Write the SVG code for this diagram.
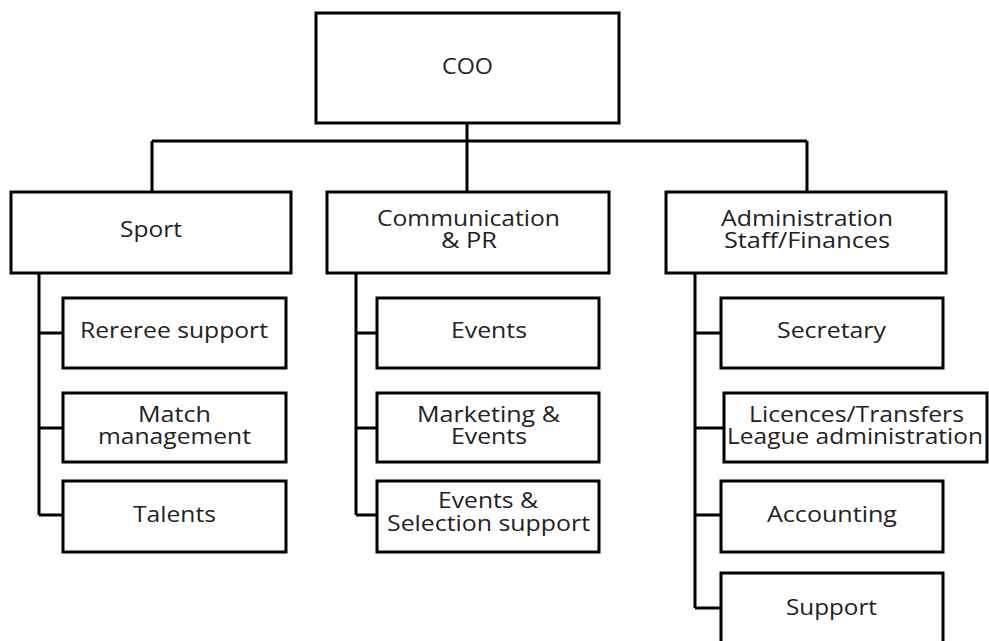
<svg xmlns="http://www.w3.org/2000/svg" width="989" height="641" viewBox="0 0 989 641">
<style>
.box{fill:#fff;stroke:#000;stroke-width:3}
.ln{fill:none;stroke:#000;stroke-width:3}
text{font-family:"Open Sans","DejaVu Sans",sans-serif;font-size:22px;fill:#222;text-anchor:middle}
</style>
<rect width="989" height="641" fill="#fff"/>
<g id="connectors">
<path class="ln" d="M467,123 V191 M152,141 H807 M152,141 V191 M807,141 V191"/>
<path class="ln" d="M39,273 V515 M39,333 H63 M39,428 H63 M39,515 H63"/>
<path class="ln" d="M356,273 V515 M356,333 H377 M356,428 H377 M356,515 H377"/>
<path class="ln" d="M695,273 V608 M695,333 H721 M695,428 H724 M695,515 H721 M695,608 H721"/>
</g>
<g id="coo"><rect class="box" x="316" y="13" width="303" height="110"/><text x="467.5" y="74" textLength="51" lengthAdjust="spacingAndGlyphs">COO</text></g>
<g id="sport"><rect class="box" x="11" y="192" width="280" height="81"/><text x="151" y="237" textLength="62" lengthAdjust="spacingAndGlyphs">Sport</text></g>
<g id="comm"><rect class="box" x="327" y="192" width="282" height="81"/><text x="468.5" y="226" textLength="183" lengthAdjust="spacingAndGlyphs">Communication</text><text x="469" y="248" textLength="56" lengthAdjust="spacingAndGlyphs">&amp; PR</text></g>
<g id="admin"><rect class="box" x="666" y="192" width="280" height="81"/><text x="807" y="226" textLength="172" lengthAdjust="spacingAndGlyphs">Administration</text><text x="807" y="248" textLength="166" lengthAdjust="spacingAndGlyphs">Staff/Finances</text></g>
<g id="referee"><rect class="box" x="63" y="298" width="223" height="70"/><text x="174" y="338" textLength="188" lengthAdjust="spacingAndGlyphs">Rereree support</text></g>
<g id="match"><rect class="box" x="63" y="393" width="223" height="69"/><text x="174.5" y="422" textLength="73" lengthAdjust="spacingAndGlyphs">Match</text><text x="174.5" y="444" textLength="153" lengthAdjust="spacingAndGlyphs">management</text></g>
<g id="talents"><rect class="box" x="63" y="481" width="223" height="71"/><text x="174.5" y="522" textLength="83" lengthAdjust="spacingAndGlyphs">Talents</text></g>
<g id="events"><rect class="box" x="377" y="298" width="222" height="70"/><text x="489" y="338" textLength="76" lengthAdjust="spacingAndGlyphs">Events</text></g>
<g id="marketing"><rect class="box" x="377" y="393" width="222" height="69"/><text x="488.5" y="422" textLength="143" lengthAdjust="spacingAndGlyphs">Marketing &amp;</text><text x="489" y="444" textLength="76" lengthAdjust="spacingAndGlyphs">Events</text></g>
<g id="selection"><rect class="box" x="377" y="481" width="222" height="71"/><text x="488" y="508" textLength="100" lengthAdjust="spacingAndGlyphs">Events &amp;</text><text x="488.5" y="531" textLength="203" lengthAdjust="spacingAndGlyphs">Selection support</text></g>
<g id="secretary"><rect class="box" x="721" y="298" width="222" height="70"/><text x="831.5" y="338" textLength="109" lengthAdjust="spacingAndGlyphs">Secretary</text></g>
<g id="licences"><rect class="box" x="724" y="393" width="263" height="69"/><text x="856.5" y="422" textLength="215" lengthAdjust="spacingAndGlyphs">Licences/Transfers</text><text x="855" y="444" textLength="256" lengthAdjust="spacingAndGlyphs">League administration</text></g>
<g id="accounting"><rect class="box" x="721" y="481" width="222" height="71"/><text x="832" y="522" textLength="130" lengthAdjust="spacingAndGlyphs">Accounting</text></g>
<g id="support"><rect class="box" x="721" y="573" width="222" height="80"/><text x="831.5" y="615" textLength="91" lengthAdjust="spacingAndGlyphs">Support</text></g>
</svg>
